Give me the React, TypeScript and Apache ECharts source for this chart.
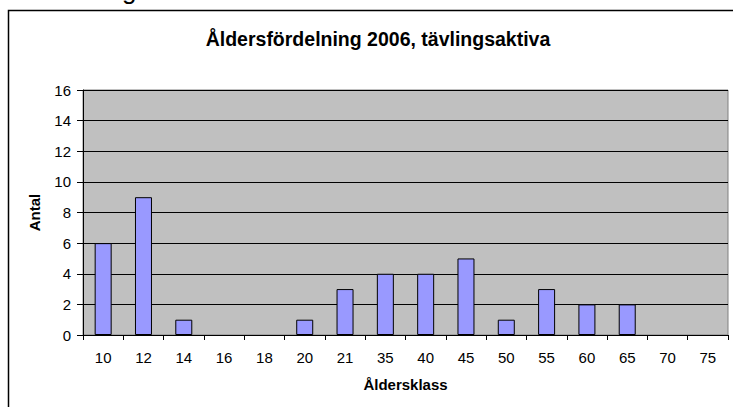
import React, { useEffect, useRef } from "react";
import * as echarts from "echarts";

const categories = ["10", "12", "14", "16", "18", "20", "21", "35", "40", "45", "50", "55", "60", "65", "70", "75"];
const antal = [6, 9, 1, 0, 0, 1, 3, 4, 4, 5, 1, 3, 2, 2, 0, 0];
const titleText = "Åldersfördelning 2006, tävlingsaktiva";
const xName = "Åldersklass";
const yName = "Antal";

export default function App() {
  const ref = useRef<HTMLDivElement>(null);
  useEffect(() => {
    document.body.style.margin = "0";
    const chart = echarts.init(ref.current!, null, { renderer: "svg" });
    const font = "'Liberation Sans', Arial, sans-serif";
    chart.setOption({
      animation: false,
      backgroundColor: "#ffffff",
      textStyle: { fontFamily: font },
      title: {
        text: titleText,
        left: 373,
        top: 24,
        textAlign: "center",
        textStyle: { fontSize: 19.5, fontWeight: "bold", color: "#000", fontFamily: font },
      },
      grid: {
        left: 83,
        top: 90,
        right: 5,
        bottom: 72,
        show: true,
        backgroundColor: "#c0c0c0",
        borderColor: "#808080",
        borderWidth: 1,
      },
      xAxis: {
        type: "category",
        data: categories,
        name: xName,
        nameLocation: "middle",
        nameGap: 42,
        nameTextStyle: { fontSize: 15, fontWeight: "bold", color: "#000", fontFamily: font },
        axisLine: { lineStyle: { color: "#000", width: 1 } },
        axisTick: { show: true, alignWithLabel: false, length: 5, lineStyle: { color: "#000" } },
        axisLabel: { color: "#000", fontSize: 15, margin: 15, fontFamily: font },
      },
      yAxis: {
        type: "value",
        min: 0,
        max: 16,
        interval: 2,
        name: yName,
        nameLocation: "middle",
        nameGap: 41,
        nameTextStyle: { fontSize: 15, fontWeight: "bold", color: "#000", fontFamily: font },
        axisLine: { show: true, lineStyle: { color: "#000", width: 1 } },
        axisTick: { show: true, length: 6, lineStyle: { color: "#000" } },
        axisLabel: { color: "#000", fontSize: 15, margin: 12, fontFamily: font },
        splitLine: { show: true, lineStyle: { color: "#000", width: 1 } },
      },
      series: [
        {
          type: "bar",
          data: antal.map((v) =>
            v === 0 ? { value: v, itemStyle: { borderWidth: 0, opacity: 0 } } : v
          ),
          barWidth: 17,
          itemStyle: { color: "#9999ff", borderColor: "#000", borderWidth: 1 },
        },
      ],
      graphic: [
        {
          type: "rect",
          shape: { x: 8.5, y: 10.5, width: 900, height: 600 },
          style: { fill: "none", stroke: "#000", lineWidth: 1.5 },
          silent: true,
        },
        {
          type: "text",
          x: 122,
          y: -23,
          style: { text: "g", fontSize: 26, fill: "#000", fontFamily: font },
          silent: true,
        },
      ],
    });
    return () => chart.dispose();
  }, []);
  return <div ref={ref} style={{ width: 733, height: 407 }} />;
}
